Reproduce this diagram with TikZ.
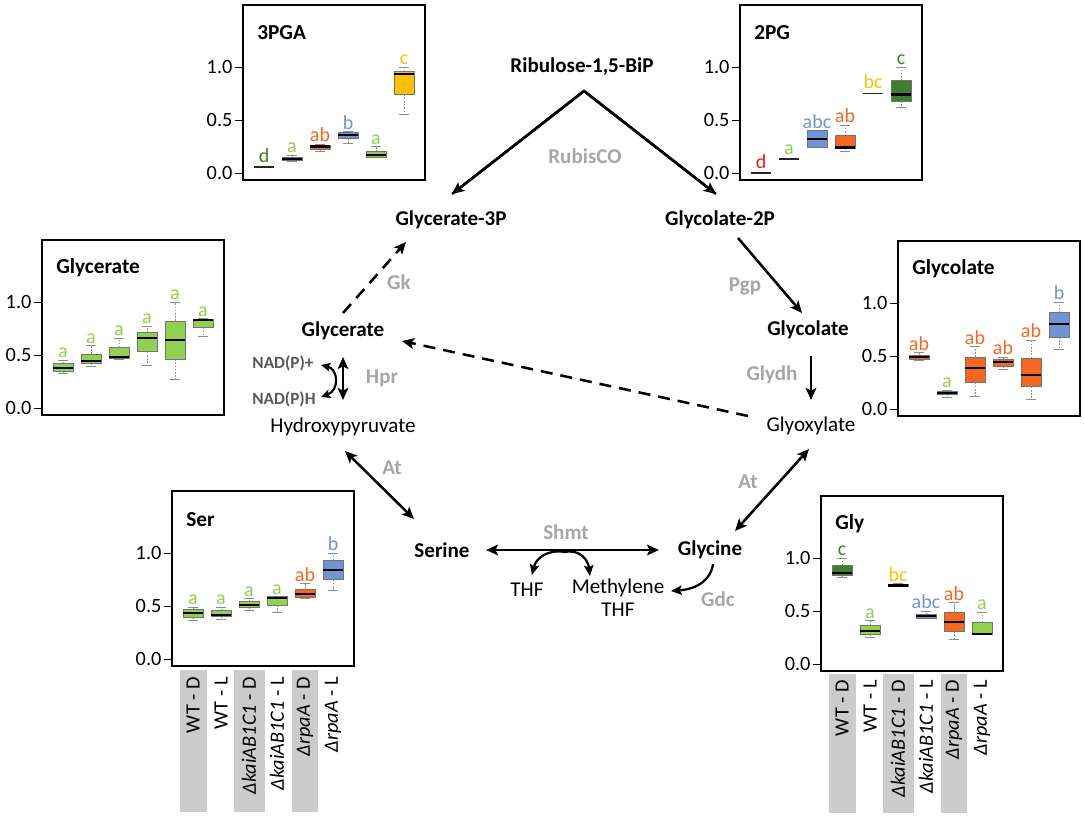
\documentclass[tikz,border=0pt]{standalone}
\usepackage{fontspec}
\setmainfont{Carlito}
\usetikzlibrary{arrows.meta}
\definecolor{lg}{RGB}{146,208,80}
\definecolor{dg}{RGB}{62,128,46}
\definecolor{og}{RGB}{245,104,36}
\definecolor{bl}{RGB}{112,148,212}
\definecolor{yl}{RGB}{255,192,0}
\definecolor{rd}{RGB}{240,30,30}
\definecolor{enzc}{RGB}{166,166,166}
\definecolor{nadc}{RGB}{89,89,89}
\definecolor{bandc}{RGB}{204,204,204}
\tikzset{
  met/.style={font=\bfseries\fontsize{15.8}{18}\selectfont, inner sep=1pt},
  metn/.style={font=\fontsize{15.8}{18}\selectfont, inner sep=1pt},
  enz/.style={font=\bfseries\fontsize{15.8}{18}\selectfont, text=enzc, inner sep=1pt},
  nad/.style={font=\bfseries\fontsize{12.9}{15}\selectfont, text=nadc, inner sep=1pt},
  tk/.style={font=\fontsize{15.2}{17}\selectfont, inner sep=1pt},
  ttl/.style={font=\bfseries\fontsize{16}{18}\selectfont, inner sep=0pt},
  lett/.style={font=\fontsize{15}{17}\selectfont, inner sep=1.5pt},
  lab/.style={font=\fontsize{15.2}{17}\selectfont, rotate=90, anchor=east, inner sep=0pt},
  whisk/.style={draw=black!45, line width=0.6pt, dash pattern=on 1.2pt off 1.2pt},
  wcap/.style={draw=black!45, line width=0.6pt},
  arr/.style={line width=1.9pt, -{Stealth[length=9pt,width=8pt,inset=2pt]}},
  darr/.style={line width=1.9pt, {Stealth[length=9pt,width=8pt,inset=2pt]}-{Stealth[length=9pt,width=8pt,inset=2pt]}},
  sarr/.style={line width=1.7pt, -{Stealth[length=8pt,width=7pt,inset=1.5pt]}},
  dsh/.style={dash pattern=on 9pt off 6pt},
}
% box: #1 idx, #2 lw, #3 q1, #4 med, #5 q3, #6 uw, #7 fill, #8 letter, #9 letter colour
\newcommand\bx[9]{%
  \pgfmathsetmacro\xc{21+28*#1}%
  \draw[whisk] (\xc,#5) -- (\xc,#6);
  \draw[whisk] (\xc,#3) -- (\xc,#2);
  \draw[wcap] (\xc-5,#6) -- (\xc+5,#6);
  \draw[wcap] (\xc-5,#2) -- (\xc+5,#2);
  \filldraw[fill=#7, draw=black!55, line width=0.6pt] (\xc-10,#3) rectangle (\xc+10,#5);
  \draw[line width=1.6pt] (\xc-10,#4) -- (\xc+10,#4);
  \node[lett, text=#9, anchor=south] at (\xc,#6) {#8};
}
% line only: #1 idx, #2 value, #3 letter, #4 letter colour
\newcommand\lo[4]{%
  \pgfmathsetmacro\xc{21+28*#1}%
  \draw[line width=1.4pt, black!85] (\xc-10,#2) -- (\xc+10,#2);
  \node[lett, text=#4, anchor=south] at (\xc,#2+0.02) {#3};
}
% panel: #1 left, #2 zero-tick y, #3 title, #4 content
\newcommand\panel[4]{%
  \begin{scope}[shift={(#1,#2)}, y={(0pt,79.5pt)}]
    #4
    \draw[line width=1pt] (0,-0.066) rectangle (182,1.585);
    \foreach \v in {0.0,0.5,1.0}{%
      \draw[line width=0.7pt] (-8,\v) -- (0,\v);
      \node[tk, anchor=east] at (-9,\v) {\v};
    }
    \node[ttl, anchor=west] at (14,1.32) {#3};
  \end{scope}
}
% condition labels: #1 panel left, #2 band top, #3 band bottom, #4 label top
\newcommand\conds[4]{%
  \fill[bandc] (#1+21-13.5,#2) rectangle (#1+21+13.5,#3);
  \fill[bandc] (#1+77-15.5,#2) rectangle (#1+77+15.5,#3);
  \fill[bandc] (#1+133-13,#2) rectangle (#1+133+13,#3);
  \node[lab] (c1) at (#1+21,#4) {WT - D};
  \node[lab] (c2) at (#1+49,#4) {WT - L};
  \node[lab] (c3) at (#1+77,#4) {\textit{ΔkaiAB1C1} - D};
  \node[lab] (c4) at (#1+105,#4) {\textit{ΔkaiAB1C1} - L};
  \node[lab] (c5) at (#1+133,#4) {\textit{ΔrpaA} - D};
  \node[lab] (c6) at (#1+161,#4) {\textit{ΔrpaA} - L};
}
\begin{document}
\begin{tikzpicture}[x=0.75pt,y=-0.75pt]
\useasboundingbox[fill=white] (0,0) rectangle (1084,820);

% ---------- panels ----------
\panel{243}{173}{3PGA}{%
  \lo{0}{0.06}{d}{dg}
  \bx{1}{0.11}{0.12}{0.135}{0.15}{0.17}{lg}{a}{lg}
  \bx{2}{0.20}{0.22}{0.25}{0.265}{0.27}{og}{ab}{og}
  \bx{3}{0.28}{0.33}{0.36}{0.38}{0.39}{bl}{b}{bl}
  \bx{4}{0.15}{0.15}{0.17}{0.20}{0.25}{lg}{a}{lg}
  \bx{5}{0.55}{0.74}{0.93}{0.96}{1.0}{yl}{c}{yl}
}
\panel{740}{173}{2PG}{%
  \lo{0}{0.0}{d}{rd}
  \lo{1}{0.13}{a}{lg}
  \bx{2}{0.24}{0.24}{0.32}{0.40}{0.40}{bl}{abc}{bl}
  \bx{3}{0.20}{0.23}{0.24}{0.35}{0.45}{og}{ab}{og}
  \lo{4}{0.75}{bc}{yl}
  \bx{5}{0.62}{0.68}{0.74}{0.87}{1.0}{dg}{c}{dg}
}
\panel{42}{408}{Glycerate}{%
  \bx{0}{0.33}{0.35}{0.375}{0.42}{0.45}{lg}{a}{lg}
  \bx{1}{0.39}{0.42}{0.44}{0.51}{0.59}{lg}{a}{lg}
  \bx{2}{0.46}{0.47}{0.48}{0.57}{0.66}{lg}{a}{lg}
  \bx{3}{0.40}{0.53}{0.66}{0.71}{0.77}{lg}{a}{lg}
  \bx{4}{0.27}{0.46}{0.64}{0.82}{1.0}{lg}{a}{lg}
  \bx{5}{0.68}{0.76}{0.83}{0.84}{0.845}{lg}{a}{lg}
}
\panel{898}{409}{Glycolate}{%
  \bx{0}{0.46}{0.47}{0.49}{0.51}{0.53}{og}{ab}{og}
  \bx{1}{0.11}{0.135}{0.15}{0.17}{0.18}{lg}{a}{lg}
  \bx{2}{0.12}{0.25}{0.39}{0.49}{0.59}{og}{ab}{og}
  \bx{3}{0.37}{0.40}{0.44}{0.47}{0.49}{og}{ab}{og}
  \bx{4}{0.09}{0.21}{0.32}{0.48}{0.65}{og}{ab}{og}
  \bx{5}{0.56}{0.68}{0.80}{0.91}{1.01}{bl}{b}{bl}
}
\panel{172}{659}{Ser}{%
  \bx{0}{0.36}{0.39}{0.43}{0.47}{0.49}{lg}{a}{lg}
  \bx{1}{0.37}{0.40}{0.415}{0.46}{0.49}{lg}{a}{lg}
  \bx{2}{0.46}{0.49}{0.51}{0.54}{0.57}{lg}{a}{lg}
  \bx{3}{0.44}{0.51}{0.575}{0.59}{0.59}{lg}{a}{lg}
  \bx{4}{0.57}{0.58}{0.61}{0.66}{0.71}{og}{ab}{og}
  \bx{5}{0.65}{0.75}{0.84}{0.93}{1.0}{bl}{b}{bl}
}
\panel{821}{664}{Gly}{%
  \bx{0}{0.82}{0.84}{0.86}{0.93}{1.0}{dg}{c}{dg}
  \bx{1}{0.25}{0.28}{0.31}{0.36}{0.41}{lg}{a}{lg}
  \bx{2}{0.73}{0.73}{0.74}{0.75}{0.76}{yl}{bc}{yl}
  \bx{3}{0.43}{0.43}{0.45}{0.47}{0.50}{bl}{abc}{bl}
  \bx{4}{0.23}{0.31}{0.40}{0.49}{0.58}{og}{ab}{og}
  \bx{5}{0.28}{0.28}{0.285}{0.39}{0.49}{lg}{a}{lg}
}
\conds{172}{670}{812}{677}
\conds{821}{674}{813}{680}

% ---------- pathway nodes ----------
\node[met] (rib) at (582,67) {Ribulose-1,5-BiP};
\node[met] (g3p) at (451,220) {Glycerate-3P};
\node[met] (g2p) at (720,220) {Glycolate-2P};
\node[met] (glyc) at (343,331) {Glycerate};
\node[met] (glyco) at (808,330) {Glycolate};
\node[metn] (glyox) at (811,426) {Glyoxylate};
\node[metn] (hpyr) at (343,427) {Hydroxypyruvate};
\node[met] (ser) at (442,550) {Serine};
\node[met] (gly) at (710,550) {Glycine};
\node[metn] (thf) at (527,590) {THF};
\node[metn, align=center] (mthf) at (618,598) {Methylene\\[-1pt]THF};
\node[nad] (nadp) at (283,363) {NAD(P)+};
\node[nad] (nadh) at (284,399) {NAD(P)H};

% enzymes
\node[enz] (rub) at (585,156) {RubisCO};
\node[enz] (gk) at (399,282) {Gk};
\node[enz] (pgp) at (745,286) {Pgp};
\node[enz] (glydh) at (772,375) {Glydh};
\node[enz] (hpr) at (382,378) {Hpr};
\node[enz] (at1) at (392,468) {At};
\node[enz] (at2) at (748,482) {At};
\node[enz] (shmt) at (566,532) {Shmt};
\node[enz] (gdc) at (718,599) {Gdc};

% ---------- connector end points ----------
\coordinate (apex) at (584,91);
\coordinate (g3pin) at (452,194);
\coordinate (g2pin) at (716,194);
\coordinate (glycout) at (343,313);
\coordinate (g3pk) at (406,242);
\coordinate (g2pout) at (738,238);
\coordinate (glycoin) at (802,313);
\coordinate (glycoout) at (811,356);
\coordinate (glyoxin) at (811,400);
\coordinate (glyoxout) at (748,416);
\coordinate (glycin) at (402,341);
\coordinate (hpyrdn) at (345,451);
\coordinate (serup) at (414,519);
\coordinate (serr) at (486,550);
\coordinate (glyl) at (659,550);
\coordinate (glyoxdn) at (809,449);
\coordinate (glyup) at (735,531);
\coordinate (shmtmid) at (565,552);
\coordinate (thfin) at (532,575);
\coordinate (mthfin) at (590,576);
\coordinate (glydn) at (713,564);
\coordinate (mthfr) at (671,591);
\coordinate (hprtop) at (343,357);
\coordinate (hprbot) at (343,400);
\coordinate (nadpin) at (321,365);
\coordinate (nadhin) at (321,397);

% ---------- connectors ----------
\draw[line width=1.9pt, line join=miter] (g3pin) -- (apex) -- (g2pin);
\draw[arr] (apex) -- (g3pin);
\draw[arr] (apex) -- (g2pin);
\draw[arr, dsh] (glycout) -- (g3pk);
\draw[arr] (g2pout) -- (glycoin);
\draw[arr] (glycoout) -- (glyoxin);
\draw[arr, dsh] (glyoxout) -- (glycin);
\draw[darr] (hprtop) -- (hprbot);
\draw[line width=1.6pt, {Stealth[length=7pt,width=6.5pt,inset=1.5pt]}-{Stealth[length=7pt,width=6.5pt,inset=1.5pt]}]
  (nadpin) .. controls (338,369) and (340,390) .. (nadhin);
\draw[darr] (hpyrdn) -- (serup);
\draw[darr] (serr) -- (glyl);
\draw[darr] (glyoxdn) -- (glyup);
\draw[sarr] (shmtmid) .. controls (548,549) and (536,558) .. (thfin);
\draw[sarr] (shmtmid) .. controls (580,549) and (588,560) .. (mthfin);
\draw[sarr] (glydn) .. controls (711,580) and (697,589) .. (mthfr);
\end{tikzpicture}
\end{document}
